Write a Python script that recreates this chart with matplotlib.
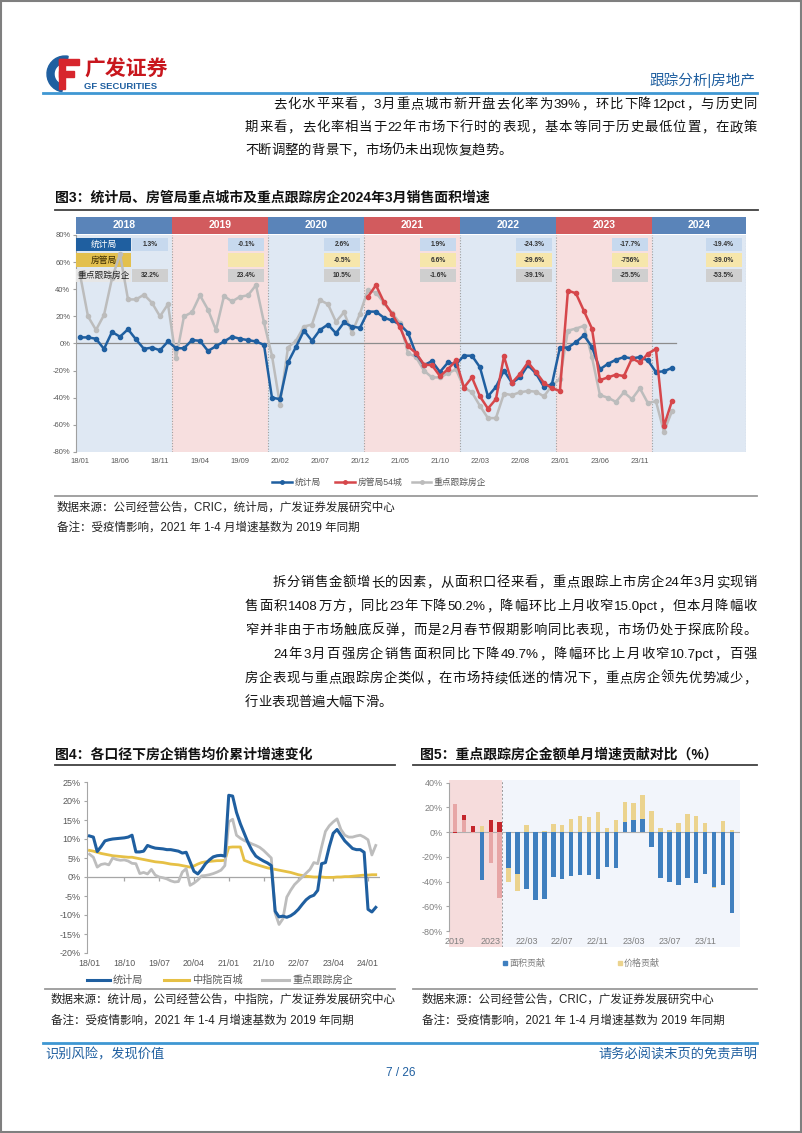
import re
import numpy as np
import matplotlib
matplotlib.use('Agg')
import matplotlib.pyplot as plt
from matplotlib.patches import Rectangle, Wedge
from matplotlib.lines import Line2D

# ---------------- text ----------------
header_right = '跟踪分析|房地产'
para1 = ['去化水平来看，3月重点城市新开盘去化率为39%，环比下降12pct，与历史同',
         '期来看，去化率相当于22年市场下行时的表现，基本等同于历史最低位置，在政策',
         '不断调整的背景下，市场仍未出现恢复趋势。']
para2 = ['拆分销售金额增长的因素，从面积口径来看，重点跟踪上市房企24年3月实现销',
         '售面积1408万方，同比23年下降50.2%，降幅环比上月收窄15.0pct，但本月降幅收',
         '窄并非由于市场触底反弹，而是2月春节假期影响同比表现，市场仍处于探底阶段。']
para3 = ['24年3月百强房企销售面积同比下降49.7%，降幅环比上月收窄10.7pct，百强',
         '房企表现与重点跟踪房企类似，在市场持续低迷的情况下，重点房企领先优势减少，',
         '行业表现普遍大幅下滑。']
fig3_title = '图3：统计局、房管局重点城市及重点跟踪房企2024年3月销售面积增速'
fig3_source = '数据来源：公司经营公告，CRIC，统计局，广发证券发展研究中心'
fig_note = '备注：受疫情影响，2021 年 1-4 月增速基数为 2019 年同期'
fig4_title = '图4：各口径下房企销售均价累计增速变化'
fig4_source = '数据来源：统计局，公司经营公告，中指院，广发证券发展研究中心'
fig5_title = '图5：重点跟踪房企金额单月增速贡献对比（%）'
fig5_source = '数据来源：公司经营公告，CRIC，广发证券发展研究中心'

# ---------------- figure 3 data ----------------
fig3_years = ['2018', '2019', '2020', '2021', '2022', '2023', '2024']
fig3_row_labels = ['统计局', '房管局', '重点跟踪房企']
fig3_tjj_vals = ['1.3%', '-0.1%', '2.6%', '1.9%', '-24.3%', '-17.7%', '-19.4%']
fig3_fgj_vals = [None, '', '-0.5%', '6.6%', '-29.6%', '-756%', '-39.0%']
fig3_zd_vals = ['32.2%', '23.4%', '10.5%', '-1.6%', '-39.1%', '-25.5%', '-53.5%']
fig3_xticklabels = ['18/01', '18/06', '18/11', '19/04', '19/09', '20/02', '20/07', '20/12',
                    '21/05', '21/10', '22/03', '22/08', '23/01', '23/06', '23/11']
fig3_series_names = ['统计局', '房管局54城', '重点跟踪房企']
fig3_tjj = [4.5, 4.5, 3.5, -4, 8.5, 5, 10.5, 3, -4, -3, -5, 1.5,
            -3.5, -3.5, 2.5, 2, -5.5, -2, 1.5, 5, 3.5, 2.5, 1.5, -1,
            -40, -41, -14, -2.5, 9.5, 2, 10, 14, 7.5, 15.5, 12.5, 11.5,
            23.5, 23.5, 19, 17, 14, 8, -7.5, -16, -13, -21, -14, -15.5,
            -9, -9, -17.5, -39, -32, -20, -29, -25, -16, -22, -32, -30,
            -3, -3, 1, 6, -2.5, -19, -15, -12, -10, -11, -10, -12.5,
            -21, -20.5, -18]
fig3_fgj = [np.nan] * 36 + [
            34.5, 43, 30.5, 22, 12, -2, -7, -15.5, -16, -24, -19, -12.5,
            -32.5, -25, -39, -48, -41, -9.5, -29, -22.5, -14, -21, -29, -33,
            -35, 39, 37, 24, 11, -27, -25, -23, -24, -11, -14, -7.5,
            -4, -61, -42.5]
fig3_zd = [51, 20, 10, 21, 48, 66, 32.5, 32.5, 36, 30, 20, 29,
           -11, 20, 23, 35.5, 25, 10, 35, 31, 34.5, 35.5, 43, 15.5,
           -9, -45, -3, 2, 12.5, 14, 32, 29, 16, 23, 8, 22,
           39.5, 37.5, 30, 22.5, 15, -7, -10, -20, -25, -25, -22, -19,
           -32.5, -36, -46, -55, -55, -37, -38, -36, -35, -35.5, -39, -31,
           -26, 9.5, 11, 13, -10, -38, -40, -43, -36, -41, -33, -44,
           -42.5, -65, -50]

# ---------------- figure 4 data ----------------
fig4_xticklabels = ['18/01', '18/10', '19/07', '20/04', '21/01', '21/10', '22/07', '23/04', '24/01']
fig4_series_names = ['统计局', '中指院百城', '重点跟踪房企']
fig4_tjj = [10.8, 10.5, 6.7, 8.0, 9.5, 9.8, 10.0, 10.1, 10.2, 10.3, 10.5, 11.0,
            6.6, 6.6, 6.8, 8.3, 7.9, 7.6, 7.5, 7.4, 7.2, 7.2, 7.0, 6.8,
            6.3, 6.5, 4.0, 1.5, 0.8, 2.0, 3.5, 4.5, 5.3, 5.6, 5.7, 5.5,
            21.5, 21.3, 17.0, 14.0, 11.5, 9.0, 7.0, 5.5, 4.8, 4.2, 3.7, 3.0,
            -9.0, -10.5, -10.3, -10.6, -10.2, -9.5, -8.5, -7.2, -6.0, -5.2, -4.8, -3.5,
            3.5, 3.8, 8.0, 11.5, 12.5, 11.0, 9.5, 8.5, 7.5, 7.2, 7.2, 6.5,
            -8.5, -9.2, -8.0]
fig4_zzy = [7.0, 6.8, 6.5, 6.2, 6.0, 5.8, 5.6, 5.5, 5.4, 5.3, 5.2, 5.2,
            5.0, 4.8, 4.6, 4.4, 4.2, 4.0, 3.9, 3.8, 3.6, 3.4, 3.3, 3.2,
            3.0, 2.8, 2.6, 2.9, 3.4, 3.8, 4.0, 4.1, 4.2, 4.3, 4.3, 4.4,
            7.8, 7.9, 7.9, 7.9, 4.4, 4.0, 3.6, 3.3, 3.0, 2.7, 2.4, 2.2,
            2.0, 1.8, 1.6, 1.4, 1.2, 0.9, 0.6, 0.4, 0.2, 0.1, 0.0, 0.0,
            0.0, -0.1, -0.1, -0.1, 0.0, 0.0, 0.1, 0.1, 0.2, 0.3, 0.4, 0.5,
            0.5, 0.6, 0.6]
fig4_zd = [6.0, 5.2, 2.6, 3.3, 3.5, 3.2, 5.0, 4.6, 4.4, 4.5, 4.2, 3.6,
           3.5, 0.9, 1.2, 0.8, 2.0, 0.5, 0.0, -0.2, -0.5, -1.0, -1.3, -1.2,
           1.3, 2.2, -2.2, -1.6, -0.8, 0.3, 0.4, 0.6, 0.9, 1.3, 1.8, 3.0,
           14.5, 15.2, 11.0, 10.2, 9.6, 9.2, 8.7, 8.3, 7.8, 7.0, 6.0, 5.0,
           -9.5, -12.5, -11.0, -5.3, -3.5, -2.0, -1.0, 0.0, 1.0, 2.0, 3.8, 3.5,
           7.9, 12.0, 13.5, 14.5, 15.3, 12.5, 11.0, 10.5, 10.5, 10.8, 11.0, 10.5,
           9.8, 5.8, 8.3]

# ---------------- figure 5 data ----------------
fig5_categories = ['2019', '2020', '2021', '2022', '2023', '2024',
                   '22/01', '22/02', '22/03', '22/04', '22/05', '22/06',
                   '22/07', '22/08', '22/09', '22/10', '22/11', '22/12',
                   '23/01', '23/02', '23/03', '23/04', '23/05', '23/06',
                   '23/07', '23/08', '23/09', '23/10', '23/11', '23/12',
                   '24/01', '24/02']
fig5_area = [23, 10, -1, -39, -25, -53.5,
             -29, -34, -46, -55, -54, -36,
             -37.5, -35.5, -34.5, -35, -38, -28,
             -29, 8, 10, 11, -12, -37,
             -40, -43, -37, -41, -33.5, -44,
             -43, -65]
fig5_price = [-1, 4, 5, 5, 9.5, 8.5,
              -11, -13.5, 5.5, 0.5, 1, 6.5,
              5.5, 10.5, 13, 12, 16, 3.5,
              9.5, 16, 13.5, 19, 17, 3.5,
              2, 7.5, 15, 13, 7.5, -0.8,
              9, 2]
fig5_series_names = ['面积贡献', '价格贡献']
fig5_annual_highlight = [0, 1, 2, 4, 5]

# ---------------- helpers ----------------
W, H = 802, 1133
FAM = ['Liberation Sans', 'Noto Sans CJK SC']
plt.rcParams['font.family'] = FAM
fig = plt.figure(figsize=(W / 100, H / 100), dpi=100)
fig.patch.set_facecolor('white')
renderer = fig.canvas.get_renderer()


def fx(px):
    return px / W


def fy(py):
    return 1 - py / H


def axes_px(x0, y0, x1, y1):
    return fig.add_axes([fx(x0), fy(y1), (x1 - x0) / W, (y1 - y0) / H])


def txt(x, y, s, size=9, color='#222222', ha='left', va='center', weight='normal', **kw):
    return fig.text(fx(x), fy(y), s, fontsize=size, color=color, ha=ha, va=va,
                    fontweight=weight, family=FAM, **kw)


def hline(x0, x1, y, color, lw):
    fig.add_artist(Line2D([fx(x0), fx(x1)], [fy(y), fy(y)], color=color, lw=lw))


def set_line(x0, x1, y, s, size, color='#111111', justify=True):
    toks = re.findall(r'[A-Za-z0-9.%\-]+|\S', s)
    em = size * 100 / 72.0
    yb = y + 0.38 * em
    objs, ws = [], []
    for t in toks:
        if re.match(r'[A-Za-z0-9.%\-]', t):
            o = txt(0, yb, t, size, color, ha='left', va='baseline')
            w = o.get_window_extent(renderer).width
        else:
            o = txt(0, yb, t, size, color, ha='center', va='baseline')
            w = em
        objs.append(o)
        ws.append(w)
    gap = (x1 - x0 - sum(ws)) / (len(toks) - 1) if justify else 0.0
    x = x0
    for o, w in zip(objs, ws):
        if o.get_ha() == 'center':
            o.set_x(fx(x + w / 2))
        else:
            o.set_x(fx(x))
        x += w + gap


# page frame
fig.add_artist(Rectangle((0.001, 0.001), 0.998, 0.998, transform=fig.transFigure,
                         fill=False, edgecolor='#7f7f7f', lw=1.5))

# ---------------- header ----------------
lax = axes_px(44, 55, 84, 93)
lax.set_xlim(0, 40)
lax.set_ylim(38, 0)
lax.set_aspect('equal')
lax.axis('off')
lax.add_patch(Wedge((21, 19), 18, 100, 280, width=7, color='#1f5fa0'))
lax.add_patch(Rectangle((15, 4), 20, 6, color='#d7262d'))
lax.add_patch(Rectangle((15, 4), 6, 30, color='#d7262d'))
lax.add_patch(Rectangle((15, 16), 15, 5.5, color='#d7262d'))
txt(84, 70, '广发证券', 15, '#c8161d', weight='bold')
txt(84, 86.5, 'GF SECURITIES', 6.8, '#1f5fa0', weight='bold')
txt(755, 80, header_right, 10.5, '#1f5fa0', ha='right')
hline(43, 757, 92.5, '#3f97d3', 2.0)

BODY = 9.6
set_line(273, 757, 103, para1[0], BODY)
set_line(245, 757, 126, para1[1], BODY)
set_line(245, 757, 149, para1[2], BODY, justify=False)

# ---------------- figure 3 ----------------
txt(55, 198, fig3_title, 10, '#111111', weight='bold')
hline(55, 758, 210, '#404040', 1.3)

ax3 = axes_px(76, 235, 745.5, 452)
x_left, x_right = -0.5, 83.2
ax3.set_xlim(x_left, x_right)
ax3.set_ylim(-80, 80)
hdr_cols = ['#5a84b9', '#d25b5e']
bg_cols = ['#dfe8f3', '#f7dfdf']
edges = [x_left + 12 * k for k in range(len(fig3_years))] + [x_right]
for k, yr in enumerate(fig3_years):
    a, b = edges[k], edges[k + 1]
    ax3.axvspan(a, b, color=bg_cols[k % 2], zorder=0, lw=0)
    ax3.add_patch(Rectangle((a, 81.0), b - a, 12.5, color=hdr_cols[k % 2], clip_on=False, lw=0))
    ax3.text((a + b) / 2, 87.2, yr, ha='center', va='center', color='white',
             fontsize=7.5, fontweight='bold', clip_on=False)
    ax3.axvline(b, color='#a0a0a0', ls=(0, (1, 1.5)), lw=0.8, zorder=1)

rows = [(68.1, 77.8), (56.3, 66.7), (45.2, 54.8)]
lab_cols = ['#1f5fa0', '#e3c04e', '#e6e6e6']
lab_txt_cols = ['white', '#3a2a00', '#222222']
val_cols = ['#c7d9ee', '#f6e6ab', '#cfcfcf']
for r, (lab, (y0, y1)) in enumerate(zip(fig3_row_labels, rows)):
    ax3.add_patch(Rectangle((x_left, y0), 6.9, y1 - y0, color=lab_cols[r], zorder=3, lw=0))
    ax3.text(x_left + 3.45, (y0 + y1) / 2, lab, ha='center', va='center', fontsize=6.3,
             color=lab_txt_cols[r], zorder=6)
for k in range(len(fig3_years)):
    b = edges[k + 1]
    for r, vals in enumerate([fig3_tjj_vals, fig3_fgj_vals, fig3_zd_vals]):
        v = vals[k]
        if v is None:
            continue
        y0, y1 = rows[r]
        ax3.add_patch(Rectangle((b - 5.0, y0), 4.5, y1 - y0, color=val_cols[r], zorder=3, lw=0))
        ax3.text(b - 2.75, (y0 + y1) / 2, v, ha='center', va='center', fontsize=4.8,
                 color='#333333', fontweight='bold', zorder=6)

months3 = np.arange(len(fig3_tjj))
ax3.plot([x_left, months3[-1] + 0.5], [0, 0], color='#8c8c8c', lw=0.9, zorder=2)
l_zd, = ax3.plot(months3, fig3_zd, color='#bcbcbc', lw=1.8, marker='o', ms=3.0, zorder=4)
l_tjj, = ax3.plot(months3, fig3_tjj, color='#1f5fa0', lw=1.8, marker='o', ms=3.0, zorder=4)
l_fgj, = ax3.plot(months3, fig3_fgj, color='#d6474b', lw=1.8, marker='o', ms=3.0, zorder=4)

ax3.set_yticks(np.arange(-80, 81, 20))
ax3.set_yticklabels(['%d%%' % v for v in np.arange(-80, 81, 20)])
ax3.set_xticks(np.arange(0, 71, 5))
ax3.set_xticklabels(fig3_xticklabels)
ax3.tick_params(axis='x', length=0, pad=4, labelsize=5.5, labelcolor='#595959')
ax3.tick_params(axis='y', length=2, pad=2, labelsize=5.5, labelcolor='#595959', color='#a0a0a0')
for s in ['top', 'right', 'bottom']:
    ax3.spines[s].set_visible(False)
ax3.spines['left'].set_color('#a0a0a0')

# legend fig3
leg_items = [(272, 292, l_tjj), (335, 355, l_fgj), (412, 431, l_zd)]
for (x0, x1, ln), name in zip(leg_items, fig3_series_names):
    fig.add_artist(Line2D([fx(x0), fx(x1)], [fy(482), fy(482)], color=ln.get_color(), lw=1.8))
    fig.add_artist(Line2D([fx((x0 + x1) / 2)], [fy(482)], color=ln.get_color(), marker='o', ms=2.5))
    txt(x1 + 2.5, 482, name, 6.3, '#595959')
hline(55, 757, 496, '#9a9a9a', 1.3)
txt(57, 507.5, fig3_source, 8.3, '#222222')
txt(57, 528, fig_note, 8.3, '#222222')

# ---------------- paragraphs ----------------
set_line(273, 757, 581, para2[0], BODY)
set_line(245, 757, 605, para2[1], BODY)
set_line(245, 757, 629, para2[2], BODY)
set_line(273, 757, 653, para3[0], BODY)
set_line(245, 757, 677, para3[1], BODY)
set_line(245, 757, 700.5, para3[2], BODY, justify=False)

# ---------------- figure 4 ----------------
txt(55, 755, fig4_title, 10, '#111111', weight='bold')
hline(55, 395, 765, '#404040', 1.3)
ax4 = axes_px(86.7, 782, 380, 953)
months4 = np.arange(len(fig4_tjj))
ax4.set_xlim(-0.72, 75.1)
ax4.set_ylim(-20, 25)
ax4.axhline(0, color='#a6a6a6', lw=0.9, zorder=1)
xt4 = np.arange(0, 73, 9)
ax4.vlines(xt4[1:], -1.0, 0, color='#a6a6a6', lw=0.9)
lz4, = ax4.plot(months4, fig4_zzy, color='#e6c045', lw=2.0, zorder=2)
lg4, = ax4.plot(months4, fig4_zd, color='#bdbdbd', lw=2.0, zorder=3)
lt4, = ax4.plot(months4, fig4_tjj, color='#1f5fa0', lw=2.2, zorder=4)
ax4.set_yticks(np.arange(-20, 26, 5))
ax4.set_yticklabels(['%d%%' % v for v in np.arange(-20, 26, 5)])
ax4.set_xticks(xt4)
ax4.set_xticklabels(fig4_xticklabels)
ax4.tick_params(axis='x', length=0, pad=4, labelsize=6.3, labelcolor='#595959')
ax4.tick_params(axis='y', length=2.5, pad=2, labelsize=6.5, labelcolor='#595959', color='#a6a6a6')
for s in ['top', 'right', 'bottom']:
    ax4.spines[s].set_visible(False)
ax4.spines['left'].set_color('#a6a6a6')
for (x0, x1), ln, name in zip([(87, 110), (164, 189), (262, 289)], [lt4, lz4, lg4], fig4_series_names):
    fig.add_artist(Line2D([fx(x0), fx(x1)], [fy(980), fy(980)], color=ln.get_color(), lw=2.2))
    txt(x1 + 3, 980, name, 7.3, '#595959')
hline(45, 395, 989, '#9a9a9a', 1.3)
txt(51, 999.5, fig4_source, 8.3, '#222222')
txt(51, 1021, fig_note, 8.3, '#222222')

# ---------------- figure 5 ----------------
txt(420, 755, fig5_title, 10, '#111111', weight='bold')
hline(413, 757, 765, '#404040', 1.3)
ax5 = axes_px(449.3, 780, 740, 947)
ax5.set_xlim(-0.64, 31.9)
ax5.set_ylim(-92.9, 42.2)
ax5.axvspan(-0.64, 5.3, color='#f6dcdc', lw=0, zorder=0)
ax5.axvspan(5.3, 31.9, color='#f2f5fb', lw=0, zorder=0)
ax5.axvline(5.3, color='#9a9a9a', ls=(0, (2, 2)), lw=0.7, zorder=1)
ax5.axhline(0, color='#b0b0b0', lw=0.8, zorder=1)
cats = np.arange(len(fig5_categories))
area = np.array(fig5_area, dtype=float)
price = np.array(fig5_price, dtype=float)
area_cols = ['#e7a6a6' if k in fig5_annual_highlight else '#3f7fbf' for k in cats]
price_cols = ['#c4262c' if k in fig5_annual_highlight else '#ebd38e' for k in cats]
price_bottom = np.where(np.sign(price) == np.sign(area), area, 0.0)
ax5.bar(cats, area, width=0.5, color=area_cols, zorder=2, label=fig5_series_names[0])
ax5.bar(cats, price, width=0.5, bottom=price_bottom, color=price_cols, zorder=2,
        label=fig5_series_names[1])
ax5.set_yticks(np.arange(-80, 41, 20))
ax5.set_yticklabels(['%d%%' % v for v in np.arange(-80, 41, 20)])
ax5.set_xticks([])
ax5.tick_params(axis='y', length=2.5, pad=2, labelsize=6.5, labelcolor='#7f7f7f', color='#a6a6a6')
for s in ['top', 'right', 'bottom']:
    ax5.spines[s].set_visible(False)
ax5.spines['left'].set_color('#a6a6a6')
ax5.spines['left'].set_bounds(-80, 40)
for k in range(0, len(fig5_categories), 4):
    ax5.text(cats[k], -88.5, fig5_categories[k], ha='center', va='center', fontsize=6.5,
             color='#7f7f7f')
for x0, col, name in [(505, '#3f7fbf', fig5_series_names[0]), (620, '#ebd38e', fig5_series_names[1])]:
    fig.add_artist(Line2D([fx(x0)], [fy(963)], marker='s', ms=3, color=col, lw=0))
    txt(x0 + 4, 963, name, 6.5, '#7f7f7f')
hline(413, 757, 989, '#9a9a9a', 1.3)
txt(422, 999.5, fig5_source, 8.3, '#222222')
txt(422, 1021, fig_note, 8.3, '#222222')

# ---------------- footer ----------------
hline(43, 757, 1043, '#3f97d3', 2.0)
txt(45, 1055, '识别风险，发现价值', 9.5, '#1f5fa0')
txt(757, 1055, '请务必阅读末页的免责声明', 9.5, '#1f5fa0', ha='right')
txt(401, 1073.5, '7 / 26', 8.5, '#1f5fa0', ha='center')

fig.savefig('out.png', dpi=100, facecolor='white')
